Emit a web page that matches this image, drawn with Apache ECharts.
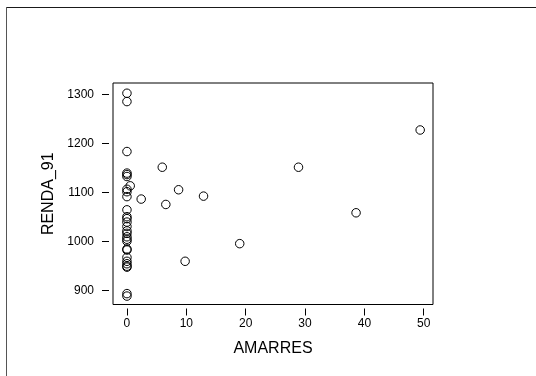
<!DOCTYPE html>
<html>
<head>
<meta charset="utf-8">
<script src="https://cdn.jsdelivr.net/npm/echarts@6/dist/echarts.min.js"></script>
<style>
html,body{margin:0;padding:0;background:#fff;}
#chart{width:536px;height:376px;}
</style>
</head>
<body>
<div id="chart"></div>
<script>
// Data
var amarres = [
  0, 0, 0, 0, 0, 0, 0, 0, 0, 0,
  0, 0, 0, 0, 0, 0, 0, 0, 0, 0,
  0, 0, 0, 0, 0, 0, 0, 0,
  0.55, 2.4, 5.95, 6.55, 8.7, 9.8, 12.9, 19.0, 28.9, 38.6, 49.4
];
var renda91 = [
  1303, 1286, 1184, 1140, 1137, 1133, 1107, 1102, 1092, 1065,
  1051, 1047, 1040, 1031, 1022, 1017, 1010, 1005, 1001, 985,
  983, 968, 960, 955, 950, 948, 894, 889,
  1114, 1087, 1152, 1076, 1106, 960, 1093, 996, 1152, 1059, 1228
];
var xTicks = [0, 10, 20, 30, 40, 50];
var yTicks = [900, 1000, 1100, 1200, 1300];
var xTitle = 'AMARRES';
var yTitle = 'RENDA_91';

var points = amarres.map(function (x, i) { return [x, renda91[i]]; });

var chart = echarts.init(document.getElementById('chart'), null, {renderer: 'canvas'});
var font = '"Liberation Sans", Arial, sans-serif';
function plain(v) { return String(v); }
chart.setOption({
  animation: false,
  backgroundColor: '#fff',
  grid: {
    left: 113, top: 83, width: 320, height: 221.5,
    show: true, borderColor: '#000', borderWidth: 1, backgroundColor: 'transparent'
  },
  xAxis: {
    type: 'value', min: -2.35, max: 51.56, offset: 4, position: 'bottom',
    axisLine: {show: false},
    splitLine: {show: false},
    axisTick: {show: true, inside: false, length: 7, customValues: xTicks, lineStyle: {color: '#000'}},
    axisLabel: {customValues: xTicks, formatter: plain, margin: 9, fontSize: 12, color: '#000', fontFamily: font},
    name: xTitle, nameLocation: 'middle', nameGap: 32,
    nameTextStyle: {fontSize: 16, color: '#000', fontFamily: font}
  },
  yAxis: {
    type: 'value', min: 871.8, max: 1323.9, offset: 4, position: 'left',
    axisLine: {show: false, onZero: false},
    splitLine: {show: false},
    axisTick: {show: true, inside: false, length: 7, customValues: yTicks, lineStyle: {color: '#000'}},
    axisLabel: {customValues: yTicks, formatter: plain, margin: 15, fontSize: 12, color: '#000', fontFamily: font},
    name: yTitle, nameLocation: 'middle', nameGap: 51,
    nameTextStyle: {fontSize: 16, color: '#000', fontFamily: font}
  },
  series: [{
    type: 'scatter',
    data: points,
    symbol: 'circle',
    symbolSize: 8.5,
    itemStyle: {color: 'rgba(0,0,0,0)', borderColor: '#000', borderWidth: 1, opacity: 1}
  }],
  graphic: [
    {type: 'line', shape: {x1: 6, y1: 7.5, x2: 536, y2: 7.5}, style: {stroke: '#1a1a1a', lineWidth: 1}, silent: true},
    {type: 'line', shape: {x1: 6.5, y1: 7, x2: 6.5, y2: 376}, style: {stroke: '#555', lineWidth: 1}, silent: true}
  ]
});
</script>
</body>
</html>
